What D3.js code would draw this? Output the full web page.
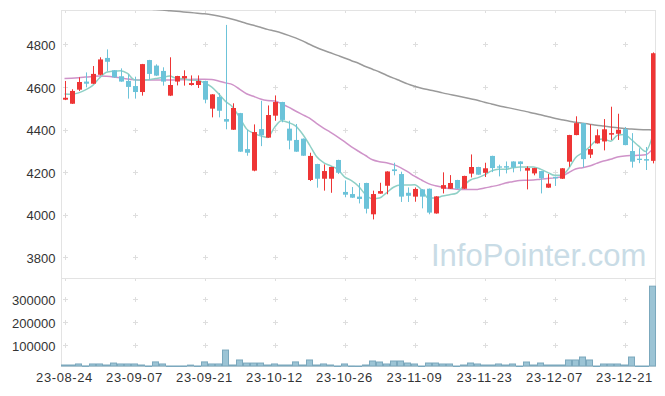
<!DOCTYPE html>
<html>
<head>
<meta charset="utf-8">
<script src="https://cdn.jsdelivr.net/npm/d3@7"></script>
<style>
html,body{margin:0;padding:0;background:#fff;}
svg{display:block;}
</style>
</head>
<body>
<svg id="chart" width="665" height="396"></svg>
<script>
const dates = ["23-08-24","23-08-25","23-08-28","23-08-29","23-08-30","23-08-31","23-09-01","23-09-04","23-09-05","23-09-06",
"23-09-07","23-09-08","23-09-11","23-09-12","23-09-13","23-09-14","23-09-15","23-09-18","23-09-19","23-09-20",
"23-09-21","23-09-22","23-09-25","23-09-26","23-09-27","23-10-04","23-10-05","23-10-06","23-10-10","23-10-11",
"23-10-12","23-10-13","23-10-16","23-10-17","23-10-18","23-10-19","23-10-20","23-10-23","23-10-24","23-10-25",
"23-10-26","23-10-27","23-10-30","23-10-31","23-11-01","23-11-02","23-11-03","23-11-06","23-11-07","23-11-08",
"23-11-09","23-11-10","23-11-13","23-11-14","23-11-15","23-11-16","23-11-17","23-11-20","23-11-21","23-11-22",
"23-11-23","23-11-24","23-11-27","23-11-28","23-11-29","23-11-30","23-12-01","23-12-04","23-12-05","23-12-06",
"23-12-07","23-12-08","23-12-11","23-12-12","23-12-13","23-12-14","23-12-15","23-12-18","23-12-19","23-12-20",
"23-12-21","23-12-22","23-12-26","23-12-27","23-12-28"];

const openP = [4540,4521,4587,4625,4615,4657,4736,4678,4650,4628,
4604,4576,4726,4700,4675,4559,4625,4640,4609,4609,
4628,4498,4553,4449,4399,4477,4308,4207,4402,4362,
4465,4529,4404,4351,4357,4163,4238,4169,4169,4257,
4107,4097,4085,4149,4002,4099,4136,4213,4191,4103,
4085,4119,4122,4006,4122,4122,4163,4122,4193,4224,
4197,4276,4227,4228,4250,4250,4207,4194,4205,4127,
4178,4169,4249,4374,4430,4282,4335,4344,4376,4380,
4402,4299,4263,4261,4253];
const highP = [4628,4589,4645,4668,4698,4739,4776,4679,4687,4659,
4648,4708,4727,4706,4692,4739,4652,4678,4654,4654,
4629,4566,4571,4891,4523,4478,4398,4424,4535,4513,
4560,4530,4441,4426,4358,4291,4239,4236,4225,4258,
4161,4130,4149,4150,4113,4150,4204,4244,4202,4128,
4128,4120,4123,4087,4199,4186,4164,4183,4283,4225,
4244,4277,4235,4250,4251,4251,4227,4220,4206,4191,
4179,4219,4375,4462,4431,4424,4401,4449,4507,4474,
4412,4383,4312,4318,4762];
const lowP = [4538,4520,4581,4598,4614,4654,4673,4643,4624,4545,
4545,4559,4635,4651,4606,4557,4607,4606,4606,4595,
4523,4457,4457,4401,4398,4295,4277,4204,4322,4361,
4441,4434,4307,4295,4276,4158,4127,4113,4103,4191,
4082,4079,4053,4006,3978,4098,4096,4185,4060,4060,
4061,4030,4002,4005,4100,4121,4121,4121,4175,4187,
4177,4200,4180,4194,4199,4204,4119,4185,4100,4126,
4135,4168,4225,4373,4222,4266,4334,4302,4351,4351,
4326,4221,4242,4210,4241];
const closeP = [4549,4581,4623,4615,4661,4729,4718,4645,4625,4600,
4576,4707,4661,4653,4625,4609,4651,4651,4618,4628,
4540,4565,4488,4437,4501,4296,4291,4388,4373,4468,
4529,4445,4348,4296,4277,4276,4169,4205,4224,4197,
4094,4080,4074,4028,4097,4111,4203,4205,4085,4089,
4121,4085,4010,4086,4139,4149,4122,4182,4224,4188,
4218,4219,4221,4221,4222,4238,4219,4219,4171,4146,
4171,4218,4374,4430,4261,4308,4373,4401,4383,4399,
4327,4249,4257,4254,4758];
const volume = [12500,12500,17000,8500,17000,17000,12500,21000,17000,17000,
17000,12500,8300,26000,17000,8200,8200,8300,12000,8300,
26000,17000,17000,78000,12500,34500,21000,21000,21000,12500,
17000,12500,12500,26000,12500,34500,12500,17000,12500,8300,
17000,8300,8100,12500,30000,25600,16900,30000,30000,21200,
16900,8100,21200,21200,16900,16900,8100,12500,21200,16900,
12500,12500,16900,12500,16900,8100,25600,12500,21200,12500,
12500,12500,34500,34500,47500,34500,8100,16900,16900,16900,
12500,47500,8100,8100,358000];
const ma5 = [4567,4566,4572,4586,4606,4642,4669,4674,4676,4663,
4633,4631,4634,4639,4644,4651,4640,4638,4631,4631,
4618,4600,4568,4532,4506,4457,4403,4383,4370,4363,
4410,4441,4433,4417,4379,4328,4273,4245,4230,4214,
4178,4160,4134,4095,4075,4078,4103,4129,4140,4139,
4141,4117,4078,4078,4088,4094,4101,4136,4163,4173,
4187,4206,4214,4213,4220,4224,4224,4224,4214,4199,
4185,4185,4216,4268,4291,4318,4349,4355,4345,4373,
4377,4352,4323,4297,4369];
const ma20 = [4640,4641,4643,4646,4649,4651,4650,4647,4642,4637,
4634,4633,4633,4633,4632,4632,4633,4634,4635,4636,
4636,4635,4628,4619,4611,4590,4568,4556,4543,4536,
4534,4521,4505,4487,4470,4453,4429,4407,4387,4366,
4343,4319,4298,4278,4258,4249,4244,4235,4221,4202,
4181,4163,4146,4136,4129,4123,4120,4119,4119,4119,
4125,4132,4139,4149,4155,4161,4162,4163,4167,4170,
4173,4179,4197,4215,4221,4229,4241,4252,4260,4271,
4276,4278,4279,4281,4308];
const ma60 = [5010,5005,5000,4996,4992,4988,4984,4980,4977,4974,
4971,4968,4966,4963,4961,4958,4955,4952,4949,4946,
4943,4939,4933,4926,4918,4908,4898,4889,4880,4870,
4862,4853,4842,4830,4816,4800,4785,4772,4760,4748,
4736,4723,4711,4696,4683,4670,4655,4641,4628,4614,
4603,4594,4587,4580,4572,4565,4558,4551,4544,4537,
4528,4520,4512,4505,4498,4491,4484,4476,4469,4461,
4453,4446,4440,4434,4430,4425,4420,4416,4412,4408,
4405,4402,4400,4399,4398];
const priceTicks = [3800,4000,4200,4400,4600,4800];
const volumeTicks = [100000,200000,300000];
const dateTickIdx = [0,10,20,30,40,50,60,70,80];
const watermark = "InfoPointer.com";

const svg = d3.select("#chart");
const L = 61.5, R = 655.5, T = 10, MID = 278, B = 366;
const FONT = "'Liberation Sans', Arial, sans-serif";

const x = d3.scaleBand().domain(dates).range([61, 656]).paddingInner(0).paddingOuter(0);
const cx = d => x(d) + x.bandwidth() / 2;
const y = d3.scaleLinear().domain([3703, 4961]).range([MID, T]);
const yv = d3.scaleLinear().domain([d3.min(volume), d3.max(volume) * 1.1]).range([B, MID]);

const up = "#ee3535", down = "#6cc3d9";

svg.append("defs").append("clipPath").attr("id", "pclip")
  .append("rect").attr("x", L).attr("y", T).attr("width", R - L).attr("height", MID - T);

// grid "+" markers
const gridG = svg.append("g").attr("stroke", "#dedede").attr("stroke-width", 1);
const rowsY = priceTicks.map(v => y(v)).concat(volumeTicks.map(v => yv(v)));
dateTickIdx.forEach(i => {
  const gx = Math.round(cx(dates[i])) + 0.5;
  rowsY.forEach(gy => {
    const yy = Math.round(gy) + 0.5;
    gridG.append("line").attr("x1", gx - 2.5).attr("x2", gx + 2.5).attr("y1", yy).attr("y2", yy);
    gridG.append("line").attr("x1", gx).attr("x2", gx).attr("y1", yy - 2.5).attr("y2", yy + 2.5);
  });
  [T, MID].forEach(ey => {
    gridG.append("line").attr("x1", gx).attr("x2", gx).attr("y1", ey).attr("y2", ey + 3);
  });
});

// watermark (above grid markers)
svg.append("rect").attr("x", 430).attr("y", 236).attr("width", 220).attr("height", 36).attr("fill", "#fff");
svg.append("text").attr("x", 431).attr("y", 266)
  .attr("font-family", FONT).attr("font-size", 31)
  .attr("fill", "#c9dce6").text(watermark);

// borders
const bG = svg.append("g").attr("fill", "none").attr("stroke", "#e3e3e3").attr("stroke-width", 1);
bG.append("rect").attr("x", L).attr("y", T + 0.5).attr("width", R - L).attr("height", B - T);
bG.append("line").attr("x1", L).attr("x2", R).attr("y1", MID + 0.5).attr("y2", MID + 0.5);

// MA lines
const lineGen = d3.line().x((d, i) => cx(dates[i])).y(d => y(d)).curve(d3.curveMonotoneX);
const maG = svg.append("g").attr("clip-path", "url(#pclip)").attr("fill", "none");
maG.append("path").attr("d", lineGen(ma60)).attr("stroke", "#9a9a9a").attr("stroke-width", 1.5);
maG.append("path").attr("d", lineGen(ma20)).attr("stroke", "#cf93c9").attr("stroke-width", 1.5);
maG.append("path").attr("d", lineGen(ma5)).attr("stroke", "#8fd0c6").attr("stroke-width", 1.5);

// candles
const cG = svg.append("g").attr("clip-path", "url(#pclip)");
const bodyW = 5;
dates.forEach((d, i) => {
  const col = closeP[i] >= openP[i] ? up : down;
  const xc = Math.round(cx(d)) + 0.5;
  cG.append("line").attr("x1", xc).attr("x2", xc)
    .attr("y1", y(highP[i])).attr("y2", y(lowP[i]))
    .attr("stroke", col).attr("stroke-width", 1);
  const top = y(Math.max(openP[i], closeP[i]));
  const bot = y(Math.min(openP[i], closeP[i]));
  cG.append("rect").attr("x", xc - bodyW / 2).attr("y", top)
    .attr("width", bodyW).attr("height", Math.max(1, bot - top))
    .attr("fill", col);
});

// volume bars
svg.append("g").selectAll("rect").data(volume).join("rect")
  .attr("x", (v, i) => x(dates[i]) + 0.5)
  .attr("y", v => yv(v))
  .attr("width", x.bandwidth() - 1)
  .attr("height", v => Math.max(0.5, B - yv(v)))
  .attr("fill", "#9cc4d5").attr("stroke", "#7ba8bd").attr("stroke-width", 1);

// axes
const styleAxis = g => {
  g.select(".domain").remove();
  g.selectAll("text").attr("font-family", FONT).attr("font-size", 13).attr("fill", "#333");
};
svg.append("g").attr("transform", `translate(${L},0)`)
  .call(d3.axisLeft(y).tickValues(priceTicks).tickSize(0).tickPadding(6).tickFormat(d3.format("d")))
  .call(styleAxis).selectAll("text").attr("dy", "0.4em");
svg.append("g").attr("transform", `translate(${L},0)`)
  .call(d3.axisLeft(yv).tickValues(volumeTicks).tickSize(0).tickPadding(6).tickFormat(d3.format("d")))
  .call(styleAxis).selectAll("text").attr("dy", "0.4em");
svg.append("g").attr("transform", `translate(0,${B})`)
  .call(d3.axisBottom(x).tickValues(dateTickIdx.map(i => dates[i])).tickSize(0).tickPadding(6.5))
  .call(styleAxis).selectAll("text").attr("letter-spacing", "0.6px");
</script>
</body>
</html>
